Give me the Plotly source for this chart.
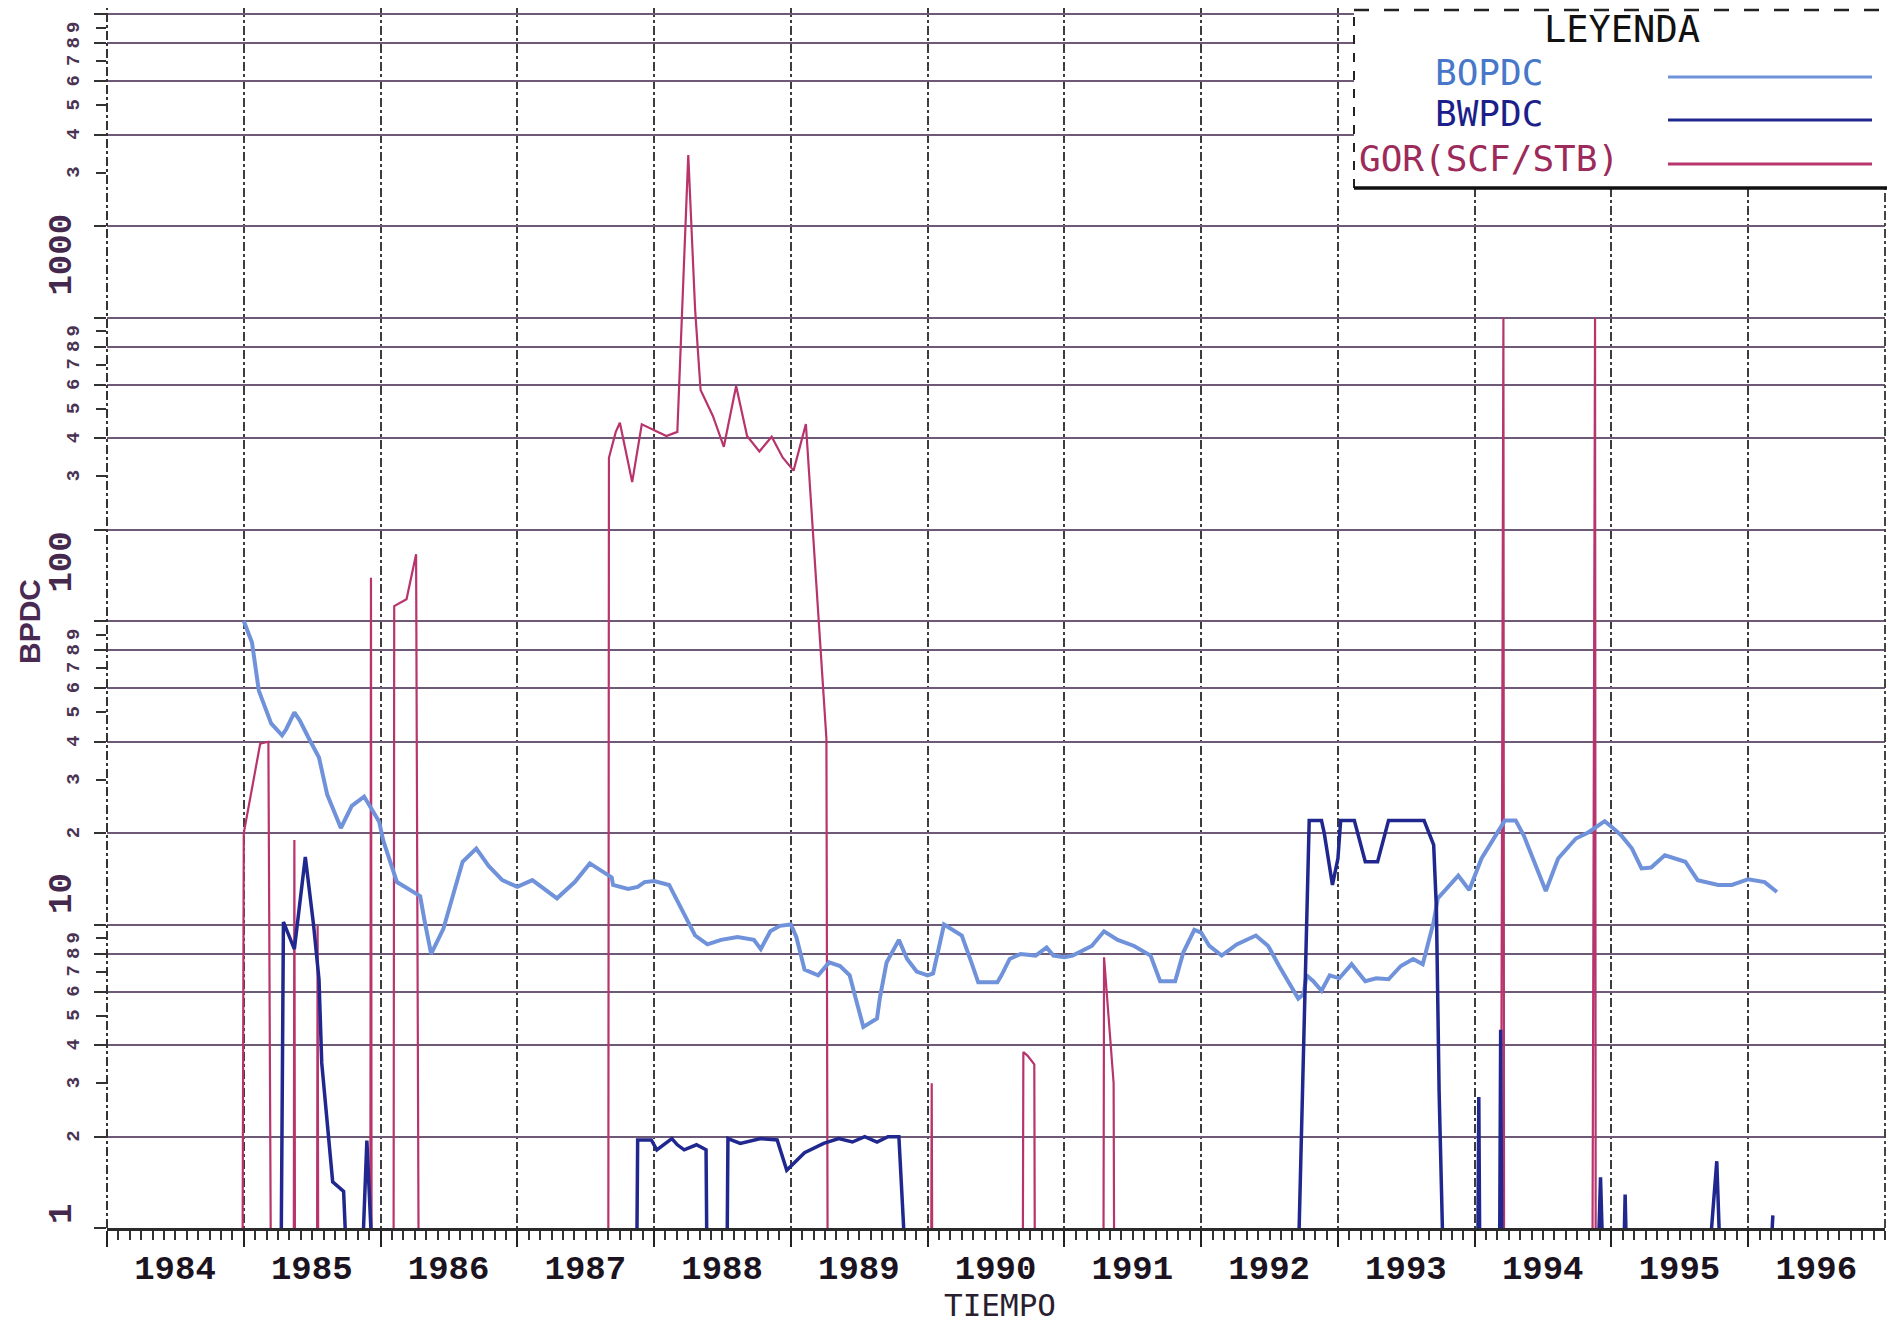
import math
import plotly.graph_objects as go

# ---------------- data ----------------
YEAR_TICKS = list(range(1984, 1998))
YEAR_LABELS = [str(y) for y in range(1984, 1997)] + [""]

BOPDC_T = [1985.00, 1985.06, 1985.11, 1985.17, 1985.20, 1985.28, 1985.31, 1985.37, 1985.41, 1985.48,
           1985.55, 1985.61, 1985.66, 1985.71, 1985.79, 1985.88, 1985.95, 1985.99, 1986.02, 1986.12,
           1986.18, 1986.29, 1986.32, 1986.37, 1986.46, 1986.53, 1986.60, 1986.70, 1986.79, 1986.89,
           1987.00, 1987.11, 1987.29, 1987.42, 1987.53, 1987.69, 1987.70, 1987.81, 1987.88, 1987.93,
           1988.00, 1988.11, 1988.17, 1988.27, 1988.30, 1988.39, 1988.49, 1988.61, 1988.73, 1988.78,
           1988.85, 1988.92, 1989.00, 1989.04, 1989.10, 1989.20, 1989.28, 1989.36, 1989.43, 1989.47,
           1989.53, 1989.63, 1989.65, 1989.70, 1989.79, 1989.85, 1989.92, 1990.00, 1990.04, 1990.12,
           1990.17, 1990.25, 1990.32, 1990.37, 1990.51, 1990.54, 1990.60, 1990.68, 1990.79, 1990.87,
           1990.92, 1991.00, 1991.06, 1991.20, 1991.29, 1991.39, 1991.51, 1991.63, 1991.70, 1991.81,
           1991.87, 1991.95, 1992.00, 1992.06, 1992.15, 1992.26, 1992.40, 1992.49, 1992.57, 1992.65,
           1992.71, 1992.75, 1992.77, 1992.82, 1992.88, 1992.94, 1993.01, 1993.10, 1993.20, 1993.28,
           1993.37, 1993.46, 1993.55, 1993.62, 1993.66, 1993.70, 1993.73, 1993.88, 1993.96, 1994.02,
           1994.05, 1994.22, 1994.30, 1994.36, 1994.52, 1994.61, 1994.74, 1994.83, 1994.95, 1995.00,
           1995.07, 1995.15, 1995.22, 1995.29, 1995.39, 1995.54, 1995.63, 1995.78, 1995.88, 1996.00,
           1996.12, 1996.21]
BOPDC_V = [100, 85, 59, 50, 46, 42, 44, 50, 47, 40.7,
           35.5, 26.8, 23.4, 20.8, 24.6, 26.4, 23.4, 21.8, 18.9, 13.8,
           13.3, 12.4, 10.4, 8.0, 9.7, 12.4, 16.1, 17.8, 15.6, 14.0,
           13.3, 14.0, 12.2, 13.8, 15.9, 14.3, 13.5, 13.1, 13.3, 13.8,
           13.9, 13.5, 12.0, 9.9, 9.2, 8.6, 8.9, 9.1, 8.9, 8.3,
           9.5, 9.9, 10.0, 9.1, 7.1, 6.8, 7.5, 7.3, 6.8, 5.8,
           4.6, 4.9, 5.7, 7.5, 8.9, 7.7, 7.0, 6.8, 6.9, 10.0,
           9.7, 9.2, 7.5, 6.45, 6.45, 6.8, 7.7, 8.0, 7.9, 8.4,
           7.9, 7.8, 7.9, 8.5, 9.5, 8.9, 8.5, 7.9, 6.5, 6.5,
           8.1, 9.6, 9.4, 8.5, 7.9, 8.6, 9.2, 8.5, 7.3, 6.3,
           5.7, 5.9, 6.8, 6.5, 6.05, 6.8, 6.65, 7.4, 6.5, 6.65,
           6.6, 7.3, 7.7, 7.4, 8.8, 10.2, 12.2, 14.5, 13.0, 15.3,
           16.5, 22.0, 22.0, 19.6, 12.9, 16.5, 19.2, 20.1, 21.9, 21.0,
           19.7, 17.8, 15.3, 15.4, 16.9, 16.1, 14.0, 13.5, 13.5, 14.1,
           13.8, 12.8]

BWPDC_T = [1985.27, 1985.29, 1985.37, 1985.45, 1985.51, 1985.55, 1985.57, 1985.65, 1985.73, 1985.77,
           1985.85, 1985.90, 1985.96,
           1987.87, 1987.88, 1987.98, 1988.02, 1988.08, 1988.13, 1988.17, 1988.22, 1988.31, 1988.38,
           1988.39, 1988.53, 1988.54, 1988.63, 1988.78, 1988.90, 1988.97, 1989.10, 1989.24, 1989.35,
           1989.45, 1989.54, 1989.63, 1989.71, 1989.79, 1989.86,
           1992.70, 1992.79, 1992.88, 1992.90, 1992.96, 1993.00, 1993.02, 1993.12, 1993.20, 1993.29,
           1993.37, 1993.63, 1993.70, 1993.72, 1993.74, 1993.78,
           1994.02, 1994.03, 1994.04,
           1994.18, 1994.19, 1994.20,
           1994.89, 1994.92, 1994.95,
           1995.08, 1995.10, 1995.12,
           1995.68, 1995.77, 1995.81,
           1996.14, 1996.18]
BWPDC_V = [0, 10.2, 8.3, 16.7, 10.0, 6.6, 3.5, 1.42, 1.32, 0,
           0, 1.94, 0,
           0, 1.95, 1.95, 1.81, 1.9, 1.97, 1.88, 1.81, 1.88, 1.81,
           0, 0, 1.97, 1.9, 1.97, 1.95, 1.55, 1.77, 1.9, 1.97,
           1.92, 2.0, 1.92, 2.0, 2.0, 0,
           0, 22, 22, 20, 13.5, 16.5, 22, 22, 16.1, 16.1,
           22, 22, 18.3, 11.3, 2.8, 0,
           0, 2.7, 0,
           0, 4.5, 0,
           0, 1.47, 0,
           0, 1.29, 0,
           0, 1.66, 0,
           0, 1.1]

GOR_T = [1984.99, 1985.00, 1985.12, 1985.18, 1985.20,
         1985.365, 1985.37, 1985.375,
         1985.535, 1985.54, 1985.545,
         1985.925, 1985.93, 1985.935,
         1986.095, 1986.10, 1986.19, 1986.26, 1986.28,
         1987.665, 1987.67, 1987.72, 1987.75, 1987.84, 1987.91, 1988.00, 1988.09, 1988.17, 1988.25,
         1988.30, 1988.34, 1988.43, 1988.51, 1988.60, 1988.68, 1988.77, 1988.86, 1988.94, 1989.02,
         1989.11, 1989.26, 1989.27,
         1990.025, 1990.03, 1990.035,
         1990.695, 1990.70, 1990.73, 1990.78, 1990.785,
         1991.285, 1991.29, 1991.30, 1991.36, 1991.365,
         1994.19, 1994.21, 1994.215,
         1994.86, 1994.88, 1994.885]
GOR_V = [0, 20, 39.4, 40, 0,
         0, 19, 0,
         0, 9.9, 0,
         0, 139, 0,
         0, 112, 118, 166, 0,
         0, 345, 420, 450, 287, 445, 425, 407, 420, 3430,
         1063, 577, 474, 375, 595, 407, 362, 405, 346, 313,
         446, 41, 0,
         0, 3.0, 0,
         0, 3.8, 3.7, 3.46, 0,
         0, 7.8, 6.8, 3.0, 0,
         0, 1000, 0,
         0, 1000, 0]

Y_GRID_VALUES = [m * 10 ** e for e in range(0, 4) for m in (1, 2, 4, 6, 8)] + [10000]
Y_MINOR_VALUES = [m * 10 ** e for e in range(0, 4) for m in (3, 5, 7, 9)]
Y_MAJOR_LABEL_VALUES = [1, 10, 100, 1000]
Y_MAJOR_LABELS = ["1", "10", "100", "1000"]
Y_SMALL_LABEL_VALUES = ([m for m in range(2, 10)] + [m * 10 for m in range(2, 10)] +
                        [m * 100 for m in range(3, 10)] + [m * 1000 for m in range(3, 10)])
Y_SMALL_LABELS = ([str(m) for m in range(2, 10)] + [str(m) for m in range(2, 10)] +
                  [str(m) for m in range(3, 10)] + [str(m) for m in range(3, 10)])
MONTH_TICKS = [1984 + k / 12 for k in range(0, 13 * 12 + 1)]

SERIES_NAMES = ["BOPDC", "BWPDC", "GOR(SCF/STB)"]
SERIES_COLORS = ["#6f92da", "#20288f", "#b8346c"]
LEGEND_TEXT_COLORS = ["#4677c8", "#1c1f8a", "#9c2a5a"]

FLOOR = 0.5  # zero readings are drawn down onto the bottom axis


def floor_zero(vals):
    return [v if v > 0 else FLOOR for v in vals]


fig = go.Figure()
fig.add_trace(go.Scatter(x=GOR_T, y=floor_zero(GOR_V), mode="lines", name=SERIES_NAMES[2],
                         line=dict(color=SERIES_COLORS[2], width=2.2), showlegend=False))
fig.add_trace(go.Scatter(x=BOPDC_T, y=floor_zero(BOPDC_V), mode="lines", name=SERIES_NAMES[0],
                         line=dict(color=SERIES_COLORS[0], width=4), showlegend=False))
fig.add_trace(go.Scatter(x=BWPDC_T, y=floor_zero(BWPDC_V), mode="lines", name=SERIES_NAMES[1],
                         line=dict(color=SERIES_COLORS[1], width=3.5), showlegend=False))

# The page body has an 8px margin, so the figure is sized to end at the window edge.
OFF = 8
W, H = 1895 - OFF, 1325 - OFF
L, R, T, B = 99, 10, 0, 97
PW, PH = W - L - R, H - T - B


def px(xw):  # window x -> paper x
    return (xw - OFF - L) / PW


def py(yw):  # window y -> paper y
    return (H - B - (yw - OFF)) / PH


annotations = []
num_font = dict(family="Liberation Mono", size=34, color="#45284d", weight="bold")
major_shift = {"1": 2, "10": 8, "100": 26, "1000": 20}
for v, lab in zip(Y_MAJOR_LABEL_VALUES, Y_MAJOR_LABELS):
    annotations.append(dict(x=px(62), xref="paper", y=math.log10(v), yref="y",
                            text=lab, showarrow=False, textangle=-90, xanchor="center",
                            yanchor="bottom", yshift=major_shift[lab], font=num_font))
for v, lab in zip(Y_SMALL_LABEL_VALUES, Y_SMALL_LABELS):
    annotations.append(dict(x=px(74), xref="paper", y=math.log10(v), yref="y",
                            text=lab, showarrow=False, textangle=-90, xanchor="center",
                            yanchor="middle", font=dict(family="Liberation Mono", size=19,
                                                        color="#4a3352", weight="bold")))
annotations.append(dict(x=px(29), xref="paper", y=py(622), yref="paper", text="BPDC", showarrow=False,
                        textangle=-90, xanchor="center", yanchor="middle",
                        font=dict(family="Liberation Sans", size=30, color="#4a2a52", weight="bold")))
annotations.append(dict(x=px(1000), xref="paper", y=py(1325), yref="paper", text="TIEMPO",
                        showarrow=False, xanchor="center", yanchor="bottom",
                        font=dict(family="DejaVu Sans Mono", size=31, color="#2a1f30")))

# legend box content
leg_font = "DejaVu Sans Mono"
annotations.append(dict(x=px(1622), y=py(30), xref="paper", yref="paper", text="LEYENDA",
                        showarrow=False, xanchor="center", yanchor="middle",
                        font=dict(family=leg_font, size=37, color="#111111")))
for name, col, yc in zip(SERIES_NAMES, LEGEND_TEXT_COLORS, [72, 113, 158]):
    annotations.append(dict(x=px(1489), y=py(yc), xref="paper", yref="paper", text=name,
                            showarrow=False, xanchor="center", yanchor="middle",
                            font=dict(family=leg_font, size=36, color=col)))

BOX_BOTTOM = 188
shapes = [
    dict(type="line", xref="paper", yref="paper", x0=0, x1=0, y0=0, y1=1,
         line=dict(color="#333333", width=2, dash="dashdot"), layer="above"),
    dict(type="line", xref="paper", yref="paper", x0=1, x1=1, y0=0, y1=1,
         line=dict(color="#444444", width=2, dash="dashdot"), layer="above"),
    dict(type="rect", xref="paper", yref="paper", x0=px(1354), x1=px(1900), y0=py(BOX_BOTTOM), y1=py(0),
         fillcolor="white", line=dict(width=0), layer="above"),
    dict(type="line", xref="paper", yref="paper", x0=px(1354), x1=px(1354), y0=py(BOX_BOTTOM), y1=py(9),
         line=dict(color="#222222", width=2, dash="dash"), layer="above"),
    dict(type="line", xref="paper", yref="paper", x0=px(1354), x1=px(1900), y0=py(BOX_BOTTOM),
         y1=py(BOX_BOTTOM), line=dict(color="#111111", width=3.5), layer="above"),
    dict(type="line", xref="paper", yref="paper", x0=px(1354), x1=px(1900), y0=py(10), y1=py(10),
         line=dict(color="#222222", width=2.5, dash="longdash"), layer="above"),
]
for col, yl in zip(SERIES_COLORS, [77, 120, 164]):
    shapes.append(dict(type="line", xref="paper", yref="paper", x0=px(1668), x1=px(1872),
                       y0=py(yl), y1=py(yl), line=dict(color=col, width=3), layer="above"))

fig.update_layout(
    width=W, height=H,
    margin=dict(l=L, r=R, t=T, b=B, autoexpand=False),
    paper_bgcolor="white", plot_bgcolor="white",
    showlegend=False,
    xaxis=dict(
        range=[1984, 1997], tickmode="array", tickvals=YEAR_TICKS, ticktext=YEAR_LABELS,
        ticks="outside", ticklen=16, tickwidth=2, tickcolor="#222222",
        showgrid=True, gridcolor="#3d3d3d", gridwidth=1.5, griddash="dashdot",
        showline=True, linecolor="#2a2a2a", linewidth=3, zeroline=False,
        ticklabelshift=68, ticklabelstandoff=-9,
        tickfont=dict(family="Liberation Mono", size=34, color="#1b1320", weight="bold"),
        minor=dict(tickmode="array", tickvals=MONTH_TICKS, ticks="outside", ticklen=9,
                   tickwidth=1.5, tickcolor="#333333", showgrid=False),
    ),
    yaxis=dict(
        type="log", range=[0, 4.02], tickmode="array", tickvals=Y_GRID_VALUES,
        showticklabels=False, ticks="outside", ticklen=12, tickwidth=2, tickcolor="#333333",
        showgrid=True, gridcolor="#6e5a76", gridwidth=2.2, zeroline=False, showline=False,
        minor=dict(tickmode="array", tickvals=Y_MINOR_VALUES, ticks="outside", ticklen=10,
                   tickwidth=2, tickcolor="#333333", showgrid=False),
    ),
    annotations=annotations,
    shapes=shapes,
)

fig.write_html("out.html")
